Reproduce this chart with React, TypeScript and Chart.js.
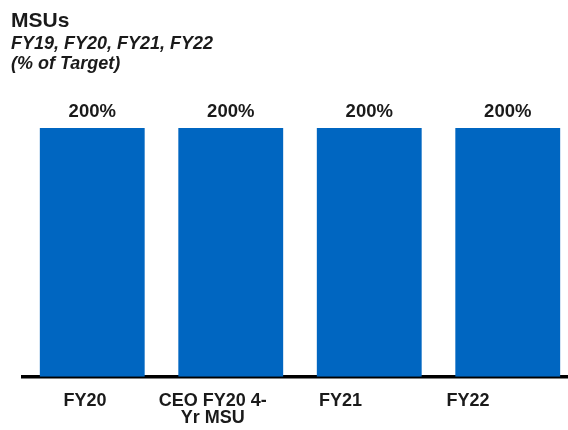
import React, { useEffect, useRef } from "react";
import { Chart, registerables } from "chart.js";

Chart.register(...registerables);

const categories = ["FY20", "CEO FY20 4-Yr MSU", "FY21", "FY22"];
const categoryLabelLines: (string | string[])[] = ["FY20", ["CEO FY20 4-", "Yr MSU"], "FY21", "FY22"];
const values = [200, 200, 200, 200];
const valueLabels = ["200%", "200%", "200%", "200%"];
const titleText = "MSUs";
const subtitleLines = ["FY19, FY20, FY21, FY22", "(% of Target)"];

const FONT = "'Liberation Sans', Arial, Helvetica, sans-serif";
const BAR_COLOR = "#0066C1";

const valueLabelPlugin = {
  id: "valueLabels",
  afterDatasetsDraw(chart: any) {
    const ctx = chart.ctx;
    const meta = chart.getDatasetMeta(0);
    ctx.save();
    ctx.font = `bold 18.5px ${FONT}`;
    ctx.fillStyle = "#1a1a1a";
    ctx.textAlign = "center";
    ctx.textBaseline = "alphabetic";
    meta.data.forEach((bar: any, i: number) => {
      ctx.fillText(valueLabels[i], bar.x, bar.y - 11);
    });
    ctx.restore();
  },
};

export default function App() {
  const ref = useRef<HTMLCanvasElement | null>(null);

  useEffect(() => {
    if (!ref.current) return;
    const chart = new Chart(ref.current, {
      type: "bar",
      data: {
        labels: categories,
        datasets: [
          {
            data: values,
            backgroundColor: BAR_COLOR,
            borderWidth: 0,
            categoryPercentage: 1,
            barPercentage: 0.757,
          },
        ],
      },
      options: {
        responsive: false,
        animation: false,
        devicePixelRatio: 1,
        layout: { padding: { top: 128, left: 23, right: 3, bottom: 0 } },
        plugins: {
          legend: { display: false },
          tooltip: { enabled: false },
          title: { display: false },
        },
        scales: {
          x: {
            type: "category",
            display: false,
            offset: true,
          },
          x2: {
            type: "linear",
            position: "bottom",
            offset: false,
            bounds: "data",
            min: -0.486,
            max: 3.853,
            afterBuildTicks: (axis: any) => {
              axis.ticks = categoryLabelLines.map((_, i) => ({ value: i }));
            },
            grid: { display: false, drawTicks: false, offset: false },
            border: { display: true, color: "#000", width: 3.5 },
            ticks: {
              autoSkip: false,
              maxRotation: 0,
              padding: 16,
              color: "#1a1a1a",
              font: { family: FONT, size: 18, weight: "bold", lineHeight: 0.95 },
              callback: (value: any) => categoryLabelLines[value as number] ?? "",
            },
          },
          y: {
            display: false,
            min: 0,
            max: 200,
          },
        },
      },
      plugins: [valueLabelPlugin],
    });
    return () => chart.destroy();
  }, []);

  return (
    <div
      style={{
        position: "fixed",
        left: 0,
        top: 0,
        width: 568,
        height: 430,
        overflow: "hidden",
        background: "#fff",
      }}
    >
      <canvas ref={ref} width={580} height={443} style={{ position: "absolute", left: 0, top: 0, width: 580, height: 443 }} />
      <div
        style={{
          position: "absolute",
          left: 11,
          top: 9,
          fontFamily: FONT,
          fontWeight: "bold",
          fontSize: 21,
          lineHeight: "21px",
          color: "#1a1a1a",
        }}
      >
        {titleText}
      </div>
      <div
        style={{
          position: "absolute",
          left: 11,
          top: 33,
          fontFamily: FONT,
          fontWeight: "bold",
          fontStyle: "italic",
          fontSize: 18,
          lineHeight: "20px",
          color: "#1a1a1a",
        }}
      >
        {subtitleLines.map((l, i) => (
          <div key={i}>{l}</div>
        ))}
      </div>
    </div>
  );
}
